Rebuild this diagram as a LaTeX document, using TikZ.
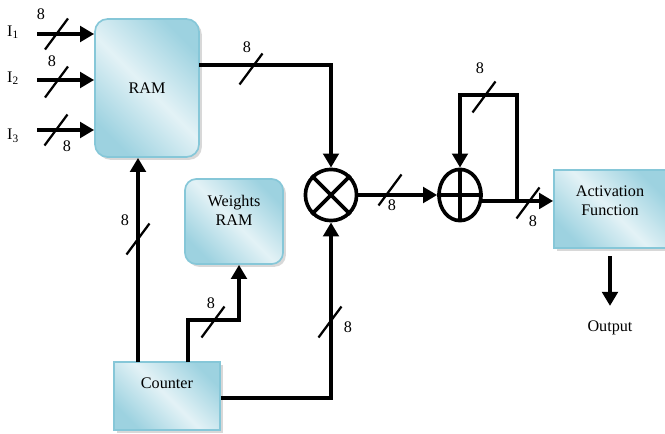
\documentclass[tikz,border=0pt]{standalone}
\usepackage{fontspec}
\setmainfont{Liberation Serif}
\usetikzlibrary{arrows.meta,shadows,calc,shapes.geometric}

\definecolor{boxedge}{HTML}{86C7D8}
\definecolor{boxdark}{HTML}{9DD2E0}
\definecolor{boxlight}{HTML}{E3F2F6}

\tikzset{
  block/.style={draw=boxedge,line width=1.2pt,left color=boxdark,right color=boxdark,
    middle color=boxlight,shading angle=135,
    drop shadow={shadow xshift=2pt,shadow yshift=-2pt,fill=black!30}},
  wire/.style={line width=2.5pt},
  arr/.style={-{Triangle[length=10pt,width=11pt]}},
  slash/.style={line width=1.6pt},
  op/.style={draw,line width=2.6pt,inner sep=0pt}
}
\newcommand{\busmark}[1]{\draw[slash] (#1) ++(-11.5,15.5) -- ++(23,-31);}

\begin{document}
\begin{tikzpicture}[x=0.025cm,y=-0.025cm,font=\fontsize{11.5pt}{13.5pt}\selectfont]
  \useasboundingbox (0,0) rectangle (665,434);

  % blocks
  \node[block,rounded corners=9pt,minimum width=2.6cm,minimum height=3.45cm] (ram) at (147,88) {RAM};
  \node[block,rounded corners=8pt,minimum width=2.45cm,minimum height=2.125cm,
        label={[align=center,yshift=8pt]center:Weights\\RAM}] (wram) at (234,221.5) {};
  \node[block,minimum width=2.65cm,minimum height=1.7cm,
        label={[yshift=9pt]center:Counter}] (counter) at (167,396) {};
  \node[block,minimum width=2.8cm,minimum height=1.95cm,
        label={[align=center,yshift=6pt]center:Activation\\Function}] (act) at (610,209) {};
  \node[op,circle,minimum size=1.28cm] (mul) at (331,195) {};
  \node[op,ellipse,minimum width=1.05cm,minimum height=1.28cm] (add) at (460,195) {};
  \draw[line width=2.6pt] (mul.north west) -- (mul.south east) (mul.north east) -- (mul.south west);
  \draw[line width=2.6pt] (add.north) -- (add.south) (add.west) -- (add.east);

  % inputs
  \node (i1) at (13,32) {I\textsubscript{1}};
  \node (i2) at (13,78) {I\textsubscript{2}};
  \node (i3) at (13,136) {I\textsubscript{3}};
  \coordinate (in1) at (37,34);
  \coordinate (in2) at (37,80);
  \coordinate (in3) at (37,130);
  \draw[wire,arr] (in1) -- (in1 -| ram.west);
  \draw[wire,arr] (in2) -- (in2 -| ram.west);
  \draw[wire,arr] (in3) -- (in3 -| ram.west);

  % data path
  \coordinate (ramout) at (199,65);
  \draw[wire,arr] (ramout) -| (mul);
  \draw[wire,arr] (mul) -- (add);
  \coordinate (tap) at (517,202);
  \draw[wire,arr] (add.-15) -- (add.-15 -| act.west);
  \draw[wire,arr] (tap) -- (517,95) -| (add);

  % counter
  \coordinate (ctra) at (138,362);
  \coordinate (ctrb) at (188,362);
  \draw[wire,arr] (ctra) -- (ctra |- ram.south);
  \draw[wire,arr] (ctrb) -- (188,320) -| ($(wram.south)+(5,0)$);
  \draw[wire,arr] (counter.east |- 0,398) -| (mul);

  % output
  \node (out) at (610,328) {Output};
  \draw[wire,arr,shorten <=0.18cm,shorten >=0.25cm] (act.south -| out) -- (out);

  % bus widths
  \busmark{56.5,34}
  \busmark{56.5,82}
  \busmark{56,130}
  \busmark{251,69}
  \busmark{390,190}
  \busmark{484,97}
  \busmark{528,203}
  \busmark{138,239}
  \busmark{213,322}
  \busmark{330,322}
  \node (b1) at (41,14) {8};
  \node (b2) at (52,61) {8};
  \node (b3) at (67,146) {8};
  \node (b4) at (247,47) {8};
  \node (b5) at (392,205) {8};
  \node (b6) at (480,68) {8};
  \node (b7) at (533,221) {8};
  \node (b8) at (125,220) {8};
  \node (b9) at (211,303) {8};
  \node (b10) at (348,327) {8};
\end{tikzpicture}
\end{document}
